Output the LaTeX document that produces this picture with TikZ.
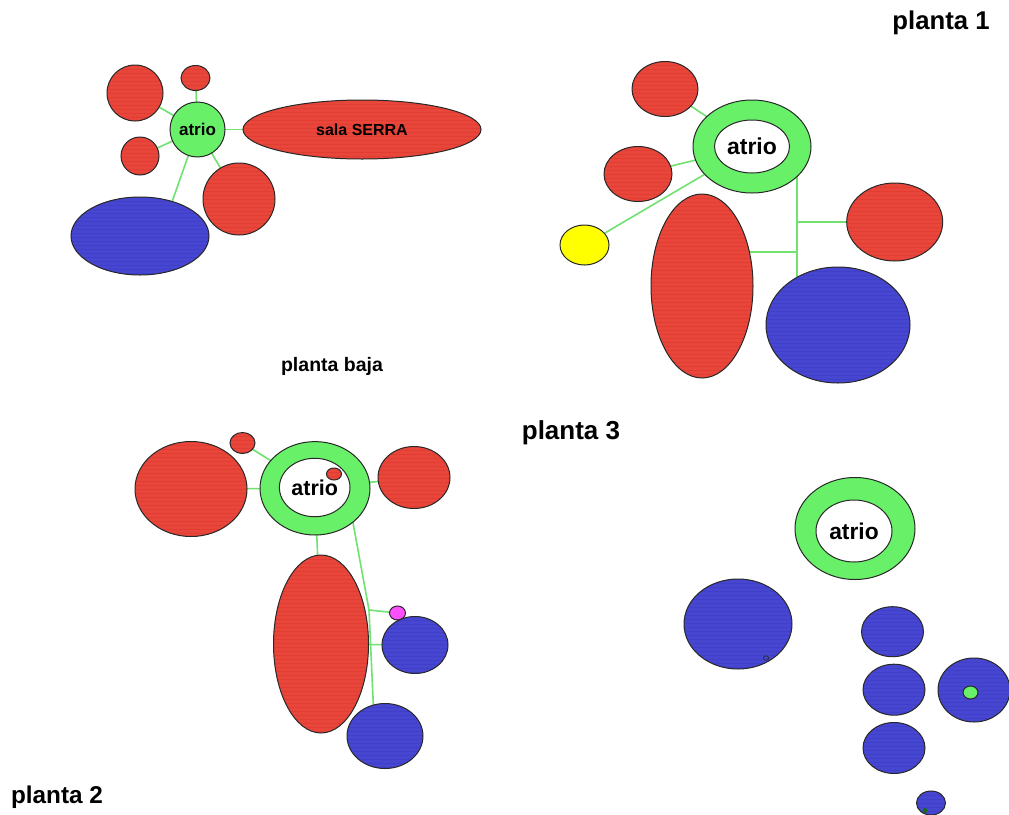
\documentclass[tikz,border=0pt]{standalone}
\usepackage{fontspec}
\setmainfont{Liberation Sans}
\usetikzlibrary{backgrounds,shapes.geometric}
\pgfdeclarelayer{paper}
\pgfsetlayers{paper,background,main}

\definecolor{roomred}{RGB}{232,70,58}
\definecolor{roomredline}{RGB}{205,30,30}
\definecolor{roomblue}{RGB}{70,70,208}
\definecolor{roombluedark}{RGB}{40,40,185}
\definecolor{atriogreen}{RGB}{104,240,104}
\definecolor{linkgreen}{RGB}{112,226,112}
\definecolor{edgegray}{RGB}{40,40,40}
\definecolor{spotyellow}{RGB}{255,255,0}
\definecolor{spotpink}{RGB}{255,80,255}

\tikzset{
  space/.style={ellipse, draw=edgegray, line width=1pt, inner sep=0pt, outer sep=0pt},
  rr/.style 2 args={minimum width=2*#1, minimum height=2*#2},
  streaks/.style={path picture={
      \foreach \yy in {0,4,...,200}{
        \draw[#1, opacity=0.22, line width=0.7pt]
          ([yshift=-\yy pt]path picture bounding box.north west) --
          ([yshift=-\yy pt]path picture bounding box.north east);}}},
  redroom/.style={space, fill=roomred, streaks=roomredline},
  blueroom/.style={space, fill=roomblue, streaks=roombluedark},
  ring/.style={space, fill=atriogreen},
  hole/.style={space, fill=white},
  link/.style={draw=linkgreen, line width=1.6pt},
  lbl/.style={font=\bfseries\fontsize{#1}{#1}\selectfont, inner sep=0pt}
}

\begin{document}
\begin{tikzpicture}[x=1pt,y=-1pt]
\begin{pgfonlayer}{paper}
  \fill[white] (0,0) rectangle (1009,814);
\end{pgfonlayer}
\useasboundingbox (0,0) rectangle (1009,814);

% ---------- planta baja ----------
\node[ring, rr={27.5}{27.5}, lbl=17] (atrioA) at (197.5,129.5) {atrio};
\node[redroom, rr={28}{28}] (a1) at (135,93) {};
\node[redroom, rr={14.5}{12.5}] (a2) at (195.5,78) {};
\node[redroom, rr={19}{19}] (a3) at (140,156) {};
\node[redroom, rr={36}{36}] (a4) at (239,199) {};
\node[blueroom, rr={69}{39}] (a5) at (140,236) {};
\node[redroom, rr={119}{29.5}, lbl=16] (sala) at (362,129.5) {sala SERRA};
\node[lbl=19.5] (pbaja) at (332,366.5) {planta baja};

% ---------- planta 1 ----------
\node[ring, rr={59}{46.5}] (ringB) at (752,146.5) {};
\node[hole, rr={37.5}{26.5}, lbl=23] (holeB) at (752,146.5) {atrio};
\node[redroom, rr={33}{27.5}] (b1) at (665,89) {};
\node[redroom, rr={34}{27.5}] (b2) at (638,174) {};
\node[space, fill=spotyellow, rr={24.5}{20}] (b3) at (584.5,245) {};
\node[redroom, rr={51}{92}] (b4) at (702,286) {};
\node[redroom, rr={48}{39}] (b5) at (894.7,222) {};
\node[blueroom, rr={72}{58}] (b6) at (838,325) {};
\coordinate (bt1) at (797,222);
\coordinate (bt2) at (797,252);
\node[lbl=25.7] (p1) at (941,23) {planta 1};

% ---------- planta 2 ----------
\node[ring, rr={55}{46.7}] (ringC) at (315,488.3) {};
\node[hole, rr={35.3}{29.2}, lbl=21.5] (holeC) at (314.7,487.5) {atrio};
\node[redroom, rr={7.5}{6}] (c3) at (334,474) {};
\node[redroom, rr={12.5}{10.5}] (c1) at (242.5,443) {};
\node[redroom, rr={56}{47.5}] (c2) at (191,489) {};
\node[redroom, rr={36}{31}] (c4) at (414,477.5) {};
\node[redroom, rr={47.5}{89}] (c5) at (321,644) {};
\node[space, fill=spotpink, rr={8}{7}] (c6) at (397.5,613) {};
\node[blueroom, rr={33}{28.5}] (c7) at (415,645) {};
\node[blueroom, rr={38}{32.5}] (c8) at (385,736) {};
\coordinate (ct0) at (347,490);
\coordinate (ct1) at (369,610);
\coordinate (ct2) at (374.5,730);
\node[lbl=24.3] (p2) at (57,797) {planta 2};

% ---------- planta 3 ----------
\node[ring, rr={60}{51}] (ringD) at (855,528.5) {};
\node[hole, rr={38}{31}, lbl=22.8] (holeD) at (854,531) {atrio};
\node[blueroom, rr={54}{45}] (d1) at (738,624) {};
\node[space, fill=roomblue, line width=0.7pt, rr={2.5}{2.2}] (d1spot) at (766,658) {};
\node[blueroom, rr={31}{25}] (d2) at (892.5,631.7) {};
\node[blueroom, rr={31}{25.5}] (d3) at (894,689.7) {};
\node[blueroom, rr={31}{25.5}] (d4) at (894,748) {};
\node[blueroom, rr={36}{32}] (d5) at (974,690) {};
\node[space, fill=atriogreen, rr={7.5}{6.5}] (d5spot) at (970.5,692.5) {};
\node[blueroom, rr={14.5}{12}] (d6) at (931,803) {};
\node[circle, fill=edgegray!70!green, inner sep=0pt, minimum size=5pt] (d6spot) at (925,810.5) {};
\node[lbl=26] (p3) at (571,433) {planta 3};

% ---------- connections ----------
\begin{pgfonlayer}{background}
  % planta baja
  \draw[link] (atrioA) -- (a1);
  \draw[link] (atrioA) -- (a2);
  \draw[link] (atrioA) -- (a3);
  \draw[link] (atrioA) -- (a4);
  \draw[link] (atrioA) -- (a5.47);
  \draw[link] (atrioA) -- (sala);
  % planta 1
  \draw[link] (ringB.center) -- (b1.center);
  \draw[link] (ringB.center) -- (b2.center);
  \draw[link] (ringB.center) -- (b3.center);
  \draw[link] (ringB.center -| bt1) -- (bt1) -- (bt2) -- (bt2 |- b6.center);
  \draw[link] (bt1) -- (b5.center);
  \draw[link] (bt2) -- (bt2 -| b4.center);
  % planta 2
  \draw[link] (ringC.center) -- (c1.center);
  \draw[link] (ringC.center) -- (c2.center);
  \draw[link] (ringC.center) -- (c4.center);
  \draw[link] (ringC.center) -- (c5.center);
  \draw[link] (ct0) -- (ct1) -- (ct2);
  \draw[link] (ct1) -- (c6.center);
  \draw[link] (c5.center) -- (c7.center);
\end{pgfonlayer}
\end{tikzpicture}
\end{document}
